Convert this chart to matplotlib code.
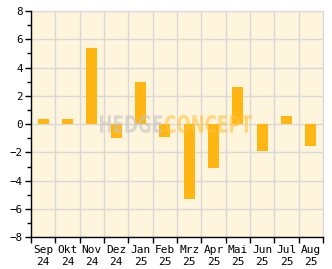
import matplotlib
matplotlib.use("Agg")
import matplotlib.pyplot as plt
import numpy as np
from matplotlib.textpath import TextPath
from matplotlib.patches import PathPatch
from matplotlib.font_manager import FontProperties
from matplotlib.transforms import Affine2D, IdentityTransform

months = ["Sep", "Okt", "Nov", "Dez", "Jan", "Feb", "Mrz", "Apr", "Mai", "Jun", "Jul", "Aug"]
years = ["24", "24", "24", "24", "25", "25", "25", "25", "25", "25", "25", "25"]
values = [0.35, 0.35, 5.35, -0.95, 2.95, -0.88, -5.32, -3.07, 2.64, -1.87, 0.59, -1.58]
yticks = [-8, -6, -4, -2, 0, 2, 4, 6, 8]

W, H = 332, 269
fig = plt.figure(figsize=(W / 100, H / 100), dpi=100)
ax = fig.add_axes([31/W, 31.7/H, 292/W, 226.3/H])
ax.set_facecolor("#FFF5DC")
fig.patch.set_facecolor("white")

n = len(values)
x = np.arange(n)
ax.bar(x, values, width=0.45, color="#FFB612", zorder=3)

ax.set_xlim(-0.5, n - 0.5)
ax.set_ylim(-8, 8)

for b in np.arange(-0.5, n, 1.0):
    ax.axvline(b, color="#d8d8d8", lw=1, zorder=1)
for yv in yticks:
    ax.axhline(yv, color="#d8d8d8", lw=1, zorder=1)

ax.set_yticks(yticks)
ax.set_yticklabels([str(v).replace("-", "\u2212") for v in yticks], family="DejaVu Sans Mono", fontsize=7.8)
ax.set_yticks(np.arange(-7, 8, 2), minor=True)
ax.tick_params(axis="y", which="major", length=4, width=1, direction="out", pad=2)
ax.tick_params(axis="y", which="minor", length=3, width=1, direction="out")

ax.set_xticks(np.arange(-0.5, n, 1.0))
ax.set_xticklabels([])
ax.set_xticks(x, minor=True)
ax.set_xticklabels([f"{m}\n{y}" for m, y in zip(months, years)], minor=True,
                   family="DejaVu Sans Mono", fontsize=8, linespacing=1.2)
ax.tick_params(axis="x", which="major", length=4, width=1, direction="out")
ax.tick_params(axis="x", which="minor", length=0, pad=5.5)

for s in ["top", "right"]:
    ax.spines[s].set_color("#d8d8d8")
for s in ["left", "bottom"]:
    ax.spines[s].set_color("black")
    ax.spines[s].set_linewidth(1)
    ax.spines[s].set_zorder(4)

# watermark drawn as scaled text paths (pixel boxes: x0, x1, ytop, ybottom)
def watermark(text, x0, x1, ytop, ybot, color, alpha):
    tp = TextPath((0, 0), text, size=1, prop=FontProperties(family="DejaVu Sans", weight="bold"))
    ext = tp.get_extents()
    sx = (x1 - x0) / ext.width
    sy = (ybot - ytop) / ext.height
    tr = Affine2D().translate(-ext.x0, -ext.y0).scale(sx, sy).translate(x0, H - ybot)
    path = tr.transform_path(tp)
    patch = PathPatch(path, facecolor=color, edgecolor="none", alpha=alpha,
                      transform=IdentityTransform(), zorder=10)
    fig.patches.append(patch)
    patch.set_figure(fig)

watermark("HEDGE", 100, 162, 115, 133, "#c4c4c4", 0.6)
watermark("CONCEPT", 165, 252, 115, 133, "#FFC23A", 0.6)

fig.savefig("out.png", dpi=100)
